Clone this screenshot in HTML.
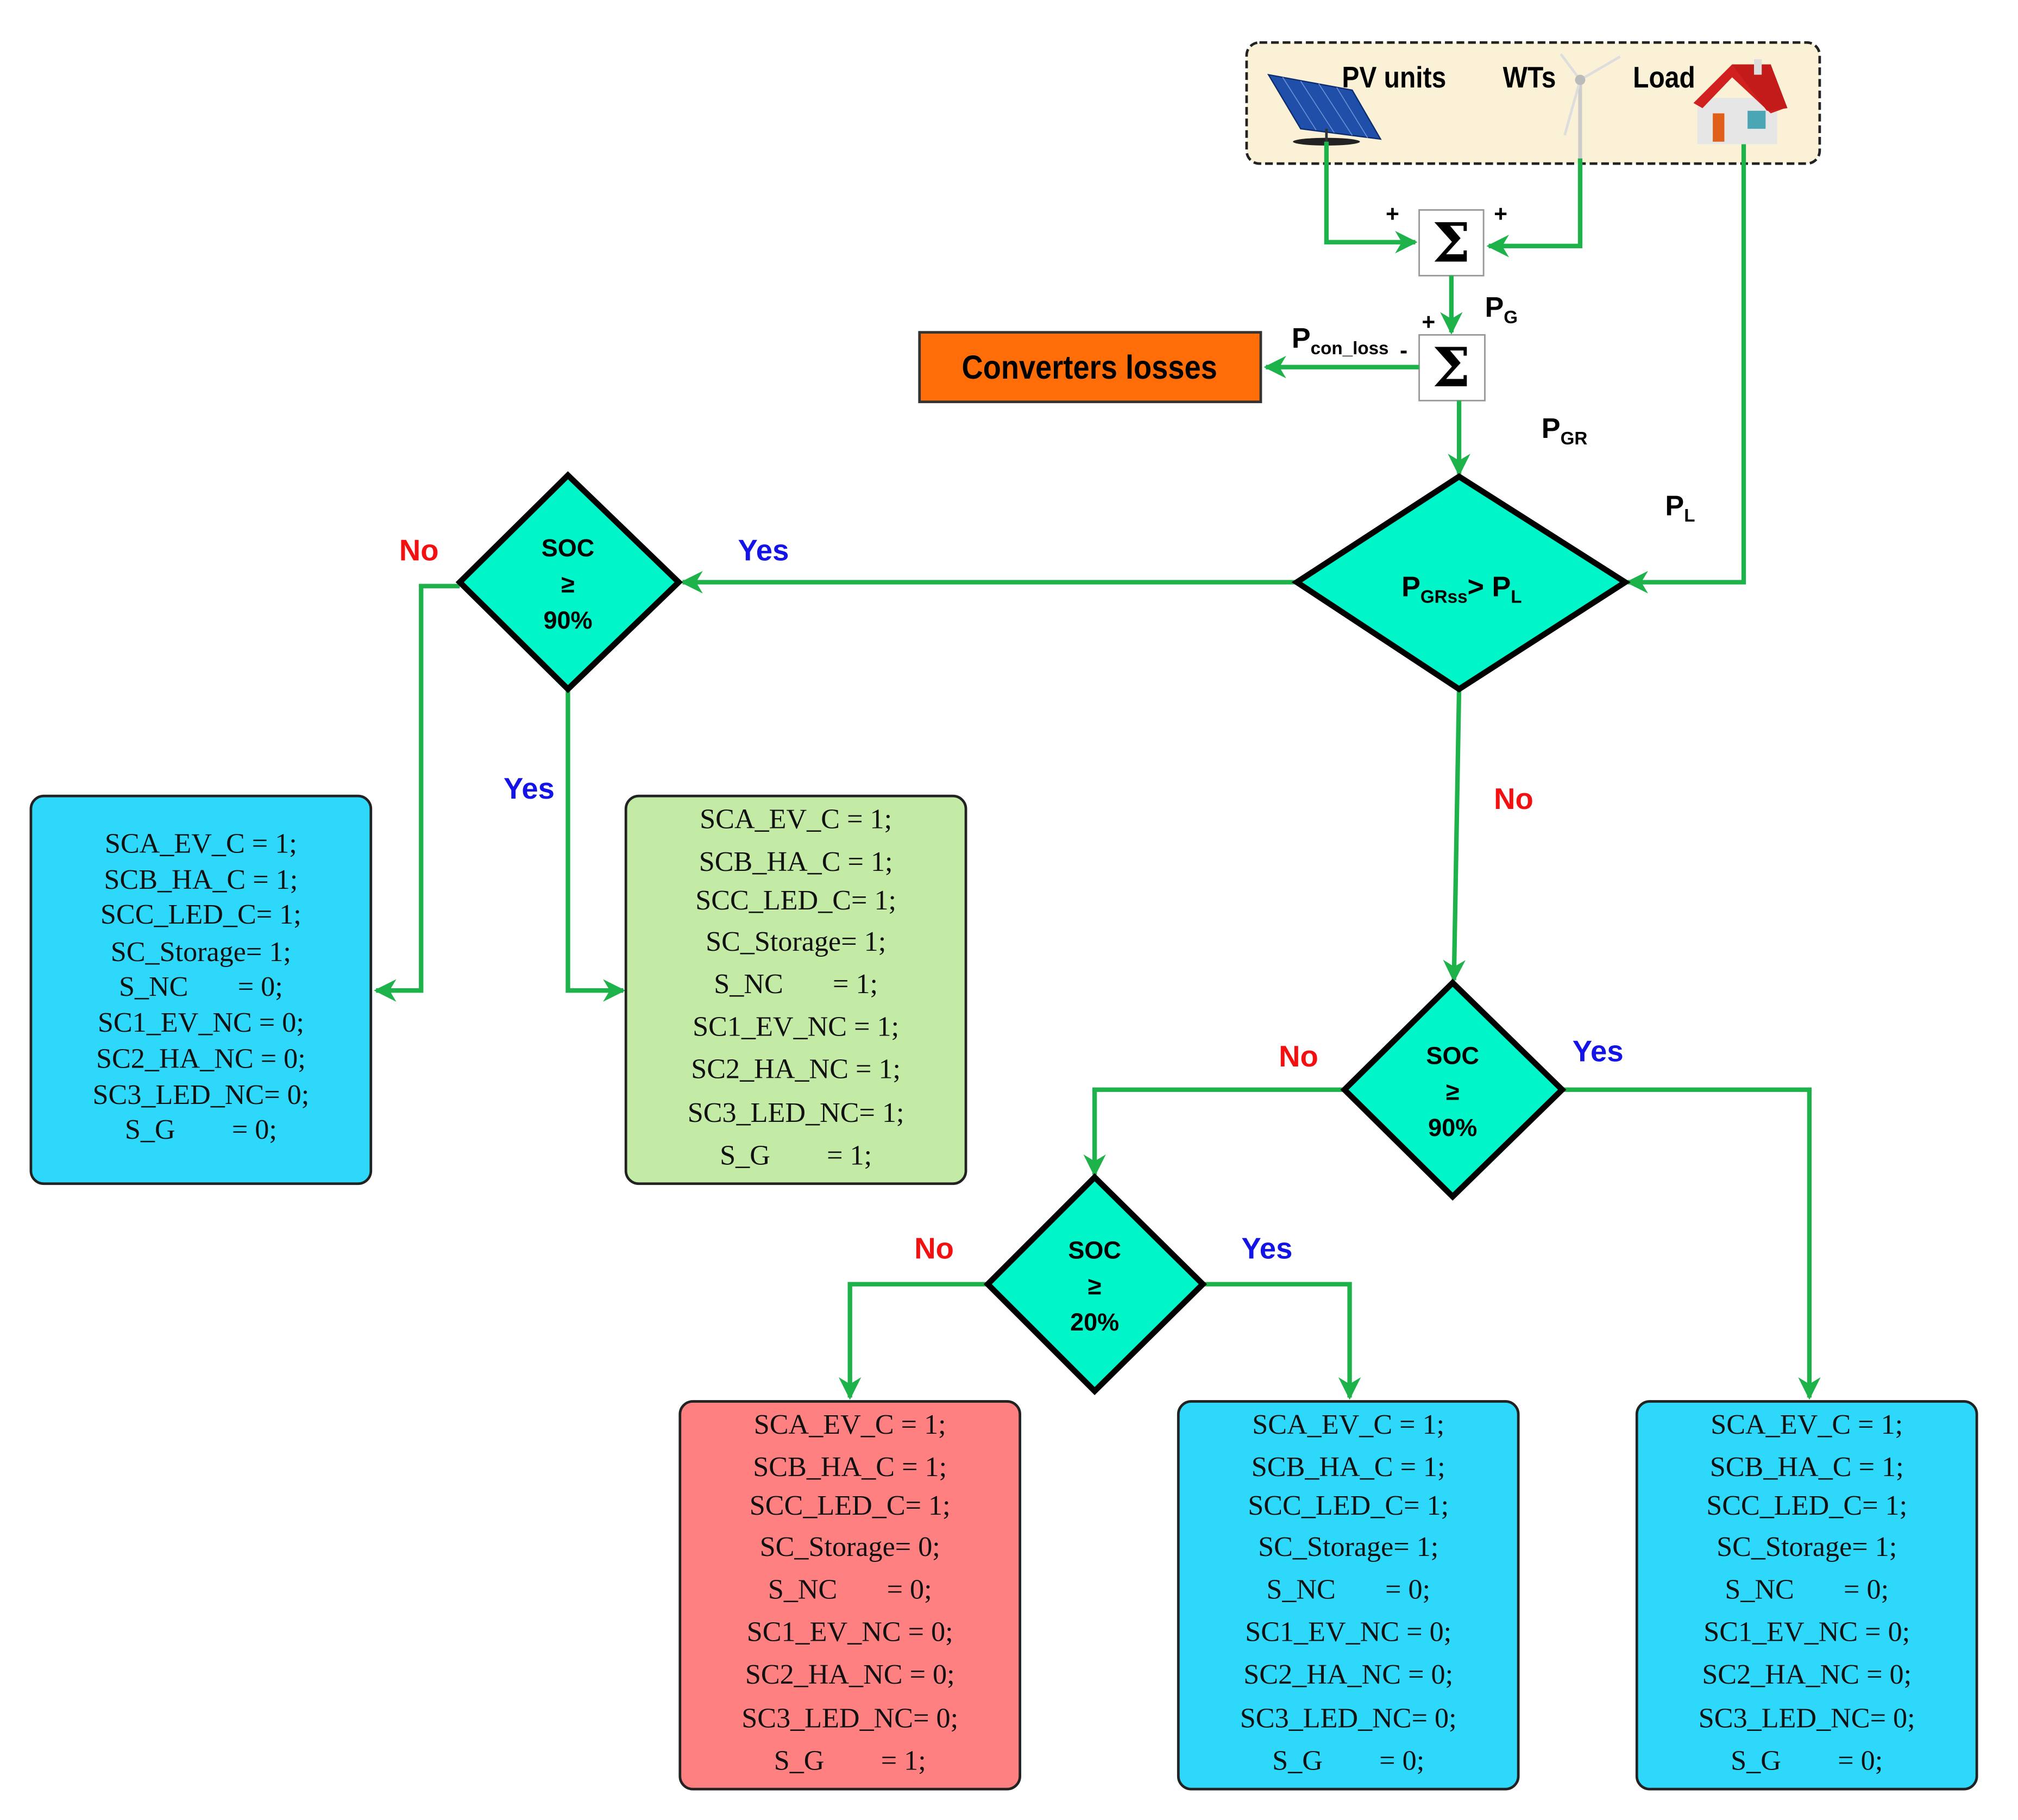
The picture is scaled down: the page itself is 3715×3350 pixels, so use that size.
<!DOCTYPE html>
<html><head><meta charset="utf-8">
<style>
html,body{margin:0;padding:0;background:#fff;}
svg{display:block;}
.lbl{font-family:"Liberation Sans",sans-serif;font-weight:bold;}
.ser{font-family:"Liberation Serif",serif;font-size:22px;fill:#111;}
</style></head>
<body>
<svg width="3715" height="3350" viewBox="0 0 1567 1413" preserveAspectRatio="none" xmlns="http://www.w3.org/2000/svg">
<defs>
<marker id="ar" viewBox="0 0 10 10" refX="9" refY="5" markerWidth="5" markerHeight="5" orient="auto" markerUnits="strokeWidth">
<path d="M0,0 L10,5 L0,10 L3,5 z" fill="#1db34a"/>
</marker>
</defs>
<rect width="1567" height="1413" fill="#fff"/>

<rect x="968" y="33" width="445" height="94" rx="10" fill="#fbf1d6" stroke="#222" stroke-width="2" stroke-dasharray="6,3"/>
<polygon points="985,58 1050,70 1072,108 1010,100" fill="#1f4fa8" stroke="#0d2c6e" stroke-width="1"/>
<g stroke="#6c90d8" stroke-width="0.7">
<line x1="996" y1="60" x2="1022" y2="101"/><line x1="1010" y1="63" x2="1036" y2="103"/><line x1="1024" y1="65" x2="1050" y2="105"/><line x1="1038" y1="68" x2="1062" y2="107"/>
</g>
<ellipse cx="1030" cy="110" rx="26" ry="3" fill="#222"/>
<line x1="1030" y1="100" x2="1030" y2="110" stroke="#333" stroke-width="2"/>
<text class="lbl" x="1042" y="68" font-size="23" transform="translate(1042 0) scale(0.88 1) translate(-1042 0)">PV units</text>
<text class="lbl" x="1167" y="68" font-size="23" transform="translate(1167 0) scale(0.88 1) translate(-1167 0)">WTs</text>
<text class="lbl" x="1268" y="68" font-size="23" transform="translate(1268 0) scale(0.88 1) translate(-1268 0)">Load</text>
<line x1="1227" y1="62" x2="1227" y2="123" stroke="#ccc" stroke-width="3"/>
<line x1="1227" y1="62" x2="1258" y2="44" stroke="#ddd" stroke-width="2"/>
<line x1="1227" y1="62" x2="1212" y2="42" stroke="#ddd" stroke-width="2"/>
<line x1="1227" y1="62" x2="1215" y2="105" stroke="#ddd" stroke-width="2"/>
<circle cx="1227" cy="62" r="4" fill="#bbb"/>
<rect x="1318" y="76" width="62" height="36" fill="#e6e6e6"/>
<polygon points="1315,80 1345,50 1386,84 1375,88 1345,60 1322,84" fill="#d02020"/>
<polygon points="1345,50 1375,50 1388,84 1372,86" fill="#c31a1a"/>
<rect x="1330" y="88" width="9" height="22" fill="#e0601a"/>
<rect x="1357" y="86" width="14" height="14" fill="#4aa6b5"/>
<rect x="1362" y="46" width="6" height="12" fill="#ddd"/>

<rect x="1102" y="163" width="50" height="51" fill="#fff" stroke="#999" stroke-width="1.2"/>
<text x="1127" y="203" font-family="DejaVu Serif,serif" font-weight="bold" font-size="42" text-anchor="middle">Σ</text>
<rect x="1102" y="260" width="51" height="51" fill="#fff" stroke="#999" stroke-width="1.2"/>
<text x="1127" y="300" font-family="DejaVu Serif,serif" font-weight="bold" font-size="42" text-anchor="middle">Σ</text>

<rect x="714" y="258" width="265" height="54" fill="#ff6d08" stroke="#333" stroke-width="2"/>
<text class="lbl" x="846" y="294" font-size="26" text-anchor="middle" transform="translate(846 0) scale(0.88 1) translate(-846 0)">Converters losses</text>

<g fill="none" stroke="#1db34a" stroke-width="3.5">
<polyline points="1030,110 1030,188 1099,188" marker-end="url(#ar)"/>
<polyline points="1227,123 1227,191 1156,191" marker-end="url(#ar)"/>
<polyline points="1127,214 1127,258" marker-end="url(#ar)"/>
<polyline points="1102,285 983,285" marker-end="url(#ar)"/>
<polyline points="1133,311 1133,368" marker-end="url(#ar)"/>
<polyline points="1354,112 1354,452 1264,452" marker-end="url(#ar)"/>
<polyline points="1007,452 530,452" marker-end="url(#ar)"/>
<polyline points="357,455 327,455 327,769 292,769" marker-end="url(#ar)"/>
<polyline points="441,535 441,769 484,769" marker-end="url(#ar)"/>
<polyline points="1133,535 1129,761" marker-end="url(#ar)"/>
<polyline points="1044,846 850,846 850,912" marker-end="url(#ar)"/>
<polyline points="1213,846 1405,846 1405,1085" marker-end="url(#ar)"/>
<polyline points="767,997 660,997 660,1085" marker-end="url(#ar)"/>
<polyline points="934,997 1048,997 1048,1085" marker-end="url(#ar)"/>
</g>

<g class="lbl" font-size="18">
<text x="1076" y="172">+</text>
<text x="1160" y="172">+</text>
<text x="1104" y="256">+</text>
<text x="1087" y="278">-</text>
<text x="1153" y="246" font-size="22">P<tspan font-size="14" dy="5">G</tspan></text>
<text x="1003" y="270" font-size="22">P<tspan font-size="14" dy="5">con_loss</tspan></text>
<text x="1197" y="340" font-size="22">P<tspan font-size="14" dy="5">GR</tspan></text>
<text x="1293" y="400" font-size="22">P<tspan font-size="14" dy="5">L</tspan></text>
</g>

<g fill="#00f5c8" stroke="#000" stroke-width="4.5" stroke-linejoin="miter">
<polygon points="1133,370 1262,452 1133,535 1007,452"/>
<polygon points="441,369 527,452 441,535 357,452"/>
<polygon points="1128,763 1213,846 1128,929 1044,846"/>
<polygon points="850,914 934,997 850,1080 767,997"/>
</g>
<text class="lbl" x="1135" y="463" font-size="22" text-anchor="middle">P<tspan font-size="14" dy="5">GRss</tspan><tspan dy="-5">&gt; P</tspan><tspan font-size="14" dy="5">L</tspan></text>
<g class="lbl" font-size="19" text-anchor="middle">
<text x="441" y="432">SOC</text><text x="441" y="460">≥</text><text x="441" y="488">90%</text>
<text x="1128" y="826">SOC</text><text x="1128" y="854">≥</text><text x="1128" y="882">90%</text>
<text x="850" y="977">SOC</text><text x="850" y="1005">≥</text><text x="850" y="1033">20%</text>
</g>
<g class="lbl" font-size="23">
<text x="310" y="435" fill="#f21010">No</text>
<text x="573" y="435" fill="#1414e6">Yes</text>
<text x="391" y="620" fill="#1414e6">Yes</text>
<text x="1160" y="628" fill="#f21010">No</text>
<text x="993" y="828" fill="#f21010">No</text>
<text x="1221" y="824" fill="#1414e6">Yes</text>
<text x="710" y="977" fill="#f21010">No</text>
<text x="964" y="977" fill="#1414e6">Yes</text>
</g>

<rect x="24" y="618" width="264" height="301" rx="10" fill="#2ed8fa" stroke="#222" stroke-width="2"/>
<rect x="486" y="618" width="264" height="301" rx="10" fill="#c3eba6" stroke="#222" stroke-width="2"/>
<rect x="528" y="1088" width="264" height="301" rx="10" fill="#ff8080" stroke="#222" stroke-width="2"/>
<rect x="915" y="1088" width="264" height="301" rx="10" fill="#2ed8fa" stroke="#222" stroke-width="2"/>
<rect x="1271" y="1088" width="264" height="301" rx="10" fill="#2ed8fa" stroke="#222" stroke-width="2"/>

<g class="ser" text-anchor="middle" dominant-baseline="middle">
<text x="156" y="657">SCA_EV_C = 1;</text>
<text x="156" y="685">SCB_HA_C = 1;</text>
<text x="156" y="712">SCC_LED_C= 1;</text>
<text x="156" y="741">SC_Storage= 1;</text>
<text x="156" y="768">S_NC&#160;&#160;&#160;&#160;&#160;&#160; = 0;</text>
<text x="156" y="796">SC1_EV_NC = 0;</text>
<text x="156" y="824">SC2_HA_NC = 0;</text>
<text x="156" y="852">SC3_LED_NC= 0;</text>
<text x="156" y="879">S_G&#160;&#160;&#160;&#160;&#160;&#160;&#160; = 0;</text>

<text x="618" y="638">SCA_EV_C = 1;</text>
<text x="618" y="671">SCB_HA_C = 1;</text>
<text x="618" y="701">SCC_LED_C= 1;</text>
<text x="618" y="733">SC_Storage= 1;</text>
<text x="618" y="766">S_NC&#160;&#160;&#160;&#160;&#160;&#160; = 1;</text>
<text x="618" y="799">SC1_EV_NC = 1;</text>
<text x="618" y="832">SC2_HA_NC = 1;</text>
<text x="618" y="866">SC3_LED_NC= 1;</text>
<text x="618" y="899">S_G&#160;&#160;&#160;&#160;&#160;&#160;&#160; = 1;</text>

<text x="660" y="1108">SCA_EV_C = 1;</text>
<text x="660" y="1141">SCB_HA_C = 1;</text>
<text x="660" y="1171">SCC_LED_C= 1;</text>
<text x="660" y="1203">SC_Storage= 0;</text>
<text x="660" y="1236">S_NC&#160;&#160;&#160;&#160;&#160;&#160; = 0;</text>
<text x="660" y="1269">SC1_EV_NC = 0;</text>
<text x="660" y="1302">SC2_HA_NC = 0;</text>
<text x="660" y="1336">SC3_LED_NC= 0;</text>
<text x="660" y="1369">S_G&#160;&#160;&#160;&#160;&#160;&#160;&#160; = 1;</text>

<text x="1047" y="1108">SCA_EV_C = 1;</text>
<text x="1047" y="1141">SCB_HA_C = 1;</text>
<text x="1047" y="1171">SCC_LED_C= 1;</text>
<text x="1047" y="1203">SC_Storage= 1;</text>
<text x="1047" y="1236">S_NC&#160;&#160;&#160;&#160;&#160;&#160; = 0;</text>
<text x="1047" y="1269">SC1_EV_NC = 0;</text>
<text x="1047" y="1302">SC2_HA_NC = 0;</text>
<text x="1047" y="1336">SC3_LED_NC= 0;</text>
<text x="1047" y="1369">S_G&#160;&#160;&#160;&#160;&#160;&#160;&#160; = 0;</text>

<text x="1403" y="1108">SCA_EV_C = 1;</text>
<text x="1403" y="1141">SCB_HA_C = 1;</text>
<text x="1403" y="1171">SCC_LED_C= 1;</text>
<text x="1403" y="1203">SC_Storage= 1;</text>
<text x="1403" y="1236">S_NC&#160;&#160;&#160;&#160;&#160;&#160; = 0;</text>
<text x="1403" y="1269">SC1_EV_NC = 0;</text>
<text x="1403" y="1302">SC2_HA_NC = 0;</text>
<text x="1403" y="1336">SC3_LED_NC= 0;</text>
<text x="1403" y="1369">S_G&#160;&#160;&#160;&#160;&#160;&#160;&#160; = 0;</text>
</g>
</svg>
</body></html>
